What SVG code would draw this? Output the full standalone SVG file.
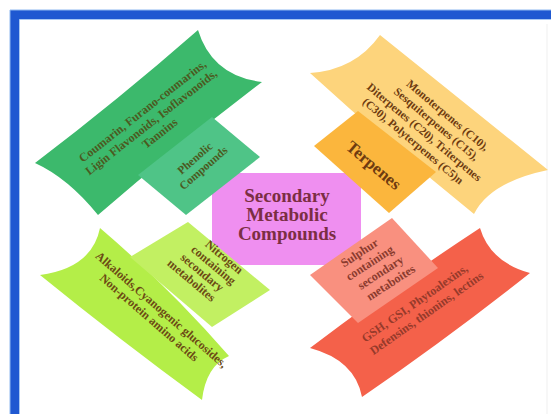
<svg xmlns="http://www.w3.org/2000/svg" width="551" height="414" viewBox="0 0 551 414">
  <style>
    .t { font-family: "Liberation Serif", "Times New Roman", serif; font-weight: bold; text-anchor: middle; }
    .s11 { font-size: 11.5px; }
    .s12 { font-size: 12px; }
  </style>

  <!-- page background and blue frame -->
  <rect x="0" y="0" width="551" height="414" fill="#ffffff"/>
  <rect x="10" y="10" width="541" height="9.5" fill="#1f58d1"/>
  <rect x="10" y="10" width="9.5" height="404" fill="#1f58d1"/>
  <path d="M10 10 H551 M10 10 V414" stroke="#8fb8f0" stroke-width="1" fill="none"/>
  <path d="M19.5 19.5 H551 M19.5 19.5 V414" stroke="#a9c8f2" stroke-width="1" fill="none"/>
  <line x1="547" y1="24" x2="547" y2="414" stroke="#efefef" stroke-width="1"/>

  <!-- ribbons (drawn first, cards sit on top) -->
  <g id="phenolic-list">
    <path d="M35 163 Q118 100 198 30 Q212 76 262 82 Q178 146 98 215 Q68 178 35 163 Z" fill="#3cb96c"/>
  </g>
  <g id="terpene-list">
    <path d="M310 73 Q355 70 380 35 Q466 104 548 170 Q490 182 474 214 Q390 146 310 73 Z" fill="#fdd47c"/>
  </g>
  <g id="nitrogen-list">
    <path d="M100 228 Q168 286 229 356 Q206 366 202 400 Q120 340 40 275 Q92 268 100 228 Z" fill="#b4ee48"/>
  </g>
  <g id="sulphur-list">
    <path d="M310 348 Q393 285 480 228 Q490 262 530 273 Q448 338 362 397 Q355 360 310 348 Z" fill="#f4614a"/>
  </g>

  <!-- central title -->
  <g id="secondary-metabolic-compounds">
    <rect x="212" y="173" width="149" height="92" fill="#ef8ff0"/>
    <g class="t" fill="#7b2e43" font-size="19">
      <text x="287" y="202">Secondary</text>
      <text x="287" y="221">Metabolic</text>
      <text x="287" y="240">Compounds</text>
    </g>
  </g>

  <!-- category cards -->
  <g id="phenolic-compounds">
    <polygon points="212,117 260,157 186,215 138,175" fill="#4fc487"/>
    <g class="t s11" fill="#4b5a1f" transform="translate(199,163) rotate(-41)">
      <text x="0" y="-2.5">Phenolic</text>
      <text x="0" y="10.5">Compounds</text>
    </g>
  </g>

  <g id="terpenes">
    <polygon points="314,146 358,111 436,172 389,213" fill="#fbb63d"/>
    <text class="t" font-size="17" fill="#6e3b10" transform="translate(374,165) rotate(40)" x="0" y="6">Terpenes</text>
  </g>

  <g id="nitrogen-containing">
    <polygon points="188,222 270,290 212,327 130,257" fill="#c2f062"/>
    <g class="t s12" fill="#6b4a14" transform="translate(208,268.5) rotate(40)">
      <text x="5" y="-15.3">Nitrogen</text>
      <text x="2" y="-2.3">containing</text>
      <text x="-2" y="10.7">secondary</text>
      <text x="-5" y="23.7">metabolites</text>
    </g>
  </g>

  <g id="sulphur-containing">
    <polygon points="392,218 438,268 358,323 310,275" fill="#f9907f"/>
    <g class="t s12" fill="#8a3b2e" transform="translate(375,267.5) rotate(-33)">
      <text x="-5" y="-16.8">Sulphur</text>
      <text x="-2" y="-2.8">containing</text>
      <text x="2" y="11.2">secondary</text>
      <text x="5" y="25.2">metaboites</text>
    </g>
  </g>

  <!-- ribbon captions, written over the cards -->
  <g id="phenolic-list-label" class="t s12" fill="#4b5a1f" transform="translate(151,122) rotate(-38)">
    <text x="0" y="-9.8">Coumarin, Furano-coumarins,</text>
    <text x="0" y="4.2">Ligin Flavonoids, Isoflavonoids,</text>
    <text x="0" y="18.2">Tannins</text>
  </g>
  <g id="terpene-list-label" class="t s11" fill="#6e3b10" transform="translate(430.5,128) rotate(40)">
    <text x="5" y="-17">Monoterpenes (C10),</text>
    <text x="2" y="-3">Sesquiterpenes (C15),</text>
    <text x="-2" y="11">Diterpenes (C20), Triterpenes</text>
    <text x="-5" y="25">(C30), Polyterpenes (C5)n</text>
  </g>
  <g id="nitrogen-list-label" class="t s12" fill="#6b4a14" transform="translate(155.5,313.5) rotate(41)">
    <text x="2" y="-2.8">Alkaloids,Cyanogenic glucosides,</text>
    <text x="-2" y="11.2">Non-protein amino acids</text>
  </g>
  <g id="sulphur-list-label" class="t s12" fill="#963a2a" transform="translate(420.5,308) rotate(-35)">
    <text x="-2" y="-3.3">GSH, GSI, Phytoalexins,</text>
    <text x="2" y="11.7">Defensins, thionins, lectins</text>
  </g>
</svg>
